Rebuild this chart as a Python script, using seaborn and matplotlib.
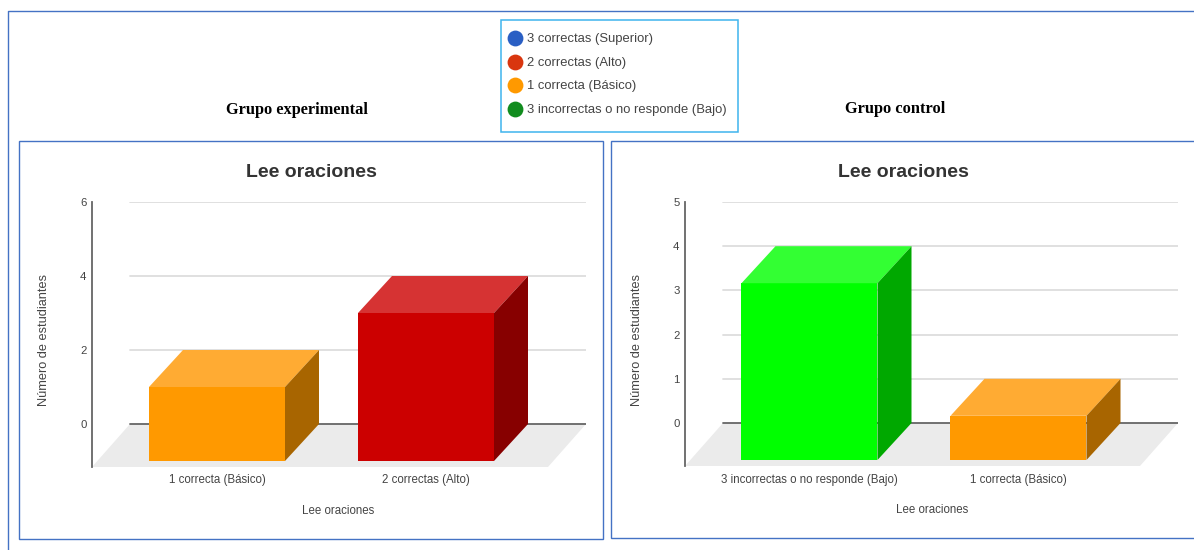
import matplotlib
matplotlib.use("Agg")
import matplotlib.pyplot as plt
from matplotlib.patches import Polygon, Rectangle
import seaborn as sns

sns.set_theme(style="white")
plt.rcParams['font.family'] = ['Liberation Sans', 'DejaVu Sans']

W, H = 1194, 550
legend_labels = ["3 correctas (Superior)", "2 correctas (Alto)", "1 correcta (Básico)", "3 incorrectas o no responde (Bajo)"]
legend_colors = ["#2A5FC4", "#D9360F", "#FF9900", "#118C1E"]

left_title = "Grupo experimental"
right_title = "Grupo control"
chart_title = "Lee oraciones"
y_label = "Número de estudiantes"

left_cats = ["1 correcta (Básico)", "2 correctas (Alto)"]
left_vals = [2, 4]
left_ticks = [0, 2, 4, 6]
right_cats = ["3 incorrectas o no responde (Bajo)", "1 correcta (Básico)"]
right_vals = [4, 1]
right_ticks = [0, 1, 2, 3, 4, 5]

PAL = {
    "1 correcta (Básico)": ("#FF9900", "#FFAB33", "#A86500"),
    "2 correctas (Alto)": ("#CC0000", "#D63333", "#870000"),
    "3 incorrectas o no responde (Bajo)": ("#00FF00", "#33FF33", "#00A800"),
}

fig = plt.figure(figsize=(W / 100, H / 100), dpi=100, facecolor="white")
bg = fig.add_axes([0, 0, 1, 1])
bg.set_xlim(0, W); bg.set_ylim(H, 0); bg.axis("off")

BLUE = "#4472C4"
bg.plot([8, 8, 1194], [550, 11, 11], color=BLUE, lw=1.0)
bg.add_patch(Rectangle((19, 141), 584, 398, fc="white", ec=BLUE, lw=1.0))
bg.add_patch(Rectangle((611, 141), 590, 397, fc="white", ec=BLUE, lw=1.0))
bg.add_patch(Rectangle((501, 20), 237, 112, fc="white", ec="#3FB4EE", lw=1.1))

for lab, col, y in zip(legend_labels, legend_colors, [37.5, 61.5, 85, 109]):
    bg.scatter([515], [y], s=130, color=col, linewidths=0)
    bg.text(527, y + 1.2, lab, fontsize=9.4, color="#444444", va="center", ha="left")

bg.text(297, 110, left_title, family="Liberation Serif", weight="bold", fontsize=11.8, color="black", ha="center", va="center")
bg.text(895, 109, right_title, family="Liberation Serif", weight="bold", fontsize=11.8, color="black", ha="center", va="center")


def panel(ax_x0, ax_x1, y_top, y_bot, y0_px, unit_px, cats, vals, ticks, first_c,
          spacing, width, depth_x, base_px, title_x, ylabel_x, xlabel_x, xlabel_y, ticklabel_y):
    ax = fig.add_axes([ax_x0 / W, 1 - y_bot / H, (ax_x1 - ax_x0) / W, (y_bot - y_top) / H])
    ax.patch.set_alpha(0)
    ymin = -(y_bot - y0_px) / unit_px
    ymax = (y0_px - y_top) / unit_px
    xl = -(first_c - ax_x0) / spacing
    xr = (ax_x1 - first_c) / spacing
    dx = depth_x / spacing
    dy = (base_px - y0_px) / unit_px
    wall = 38 / spacing

    ax.add_patch(Polygon([(xl, ymin), (xl + wall, 0), (xr, 0), (xr - wall, ymin)],
                         closed=True, fc="#EBEBEB", ec="none", zorder=0))
    for t in ticks[1:]:
        ax.plot([xl + wall, xr], [t, t], color="#DDDDDD", lw=1.3, zorder=1)
    ax.plot([xl + wall, xr], [0, 0], color="#666666", lw=1.3, zorder=1)

    sns.barplot(x=cats, y=vals, hue=cats, palette={c: PAL[c][0] for c in cats},
                width=width / spacing, legend=False, ax=ax, saturation=1, linewidth=0, zorder=3)
    bars = [p for p in ax.patches if isinstance(p, Rectangle)]
    bars = sorted(bars, key=lambda p: p.get_x())
    for patch, c in zip(bars, cats):
        patch.set_y(patch.get_y() - dy)
        x0, y0 = patch.get_x(), patch.get_y()
        w, h = patch.get_width(), patch.get_height()
        ax.add_patch(Polygon([(x0, y0 + h), (x0 + dx, y0 + h + dy), (x0 + w + dx, y0 + h + dy), (x0 + w, y0 + h)],
                             closed=True, fc=PAL[c][1], ec="none", zorder=3))
        ax.add_patch(Polygon([(x0 + w, y0), (x0 + w + dx, y0 + dy), (x0 + w + dx, y0 + h + dy), (x0 + w, y0 + h)],
                             closed=True, fc=PAL[c][2], ec="none", zorder=3))

    ax.set_xlim(xl, xr)
    ax.set_ylim(ymin, ymax)
    for s in ["top", "right", "bottom"]:
        ax.spines[s].set_visible(False)
    ax.spines["left"].set_color("#666666")
    ax.spines["left"].set_linewidth(1.3)
    ax.set_yticks(ticks)
    ax.set_yticklabels([str(t) for t in ticks], fontsize=8.2, color="#444444")
    ax.tick_params(axis="y", length=0, pad=4)
    ax.set_xticks(range(len(cats)))
    ax.set_xticklabels([])
    ax.tick_params(axis="x", length=0)
    ax.set_xlabel(""); ax.set_ylabel("")
    for i, c in enumerate(cats):
        bg.text(first_c + i * spacing, ticklabel_y, c, fontsize=8.3, color="#444444", ha="center", va="center")
    bg.text(title_x, 172.5, chart_title, fontsize=14, weight="bold", color="#333333", ha="center", va="center")
    bg.text(ylabel_x, 340, y_label, fontsize=9.2, color="#444444", rotation=90, ha="center", va="center")
    bg.text(xlabel_x, xlabel_y, chart_title, fontsize=8.3, color="#444444", ha="center", va="center")


panel(92, 586, 202, 467, 424, 37, left_cats, left_vals, left_ticks,
      217, 209, 136, 34, 461, 311, 44.5, 338, 511, 480)
panel(685, 1178, 202, 466, 423, 44.2, right_cats, right_vals, right_ticks,
      809.5, 209, 136, 34, 460, 903, 637, 932, 510, 479.5)

fig.savefig("out.png", dpi=100)
